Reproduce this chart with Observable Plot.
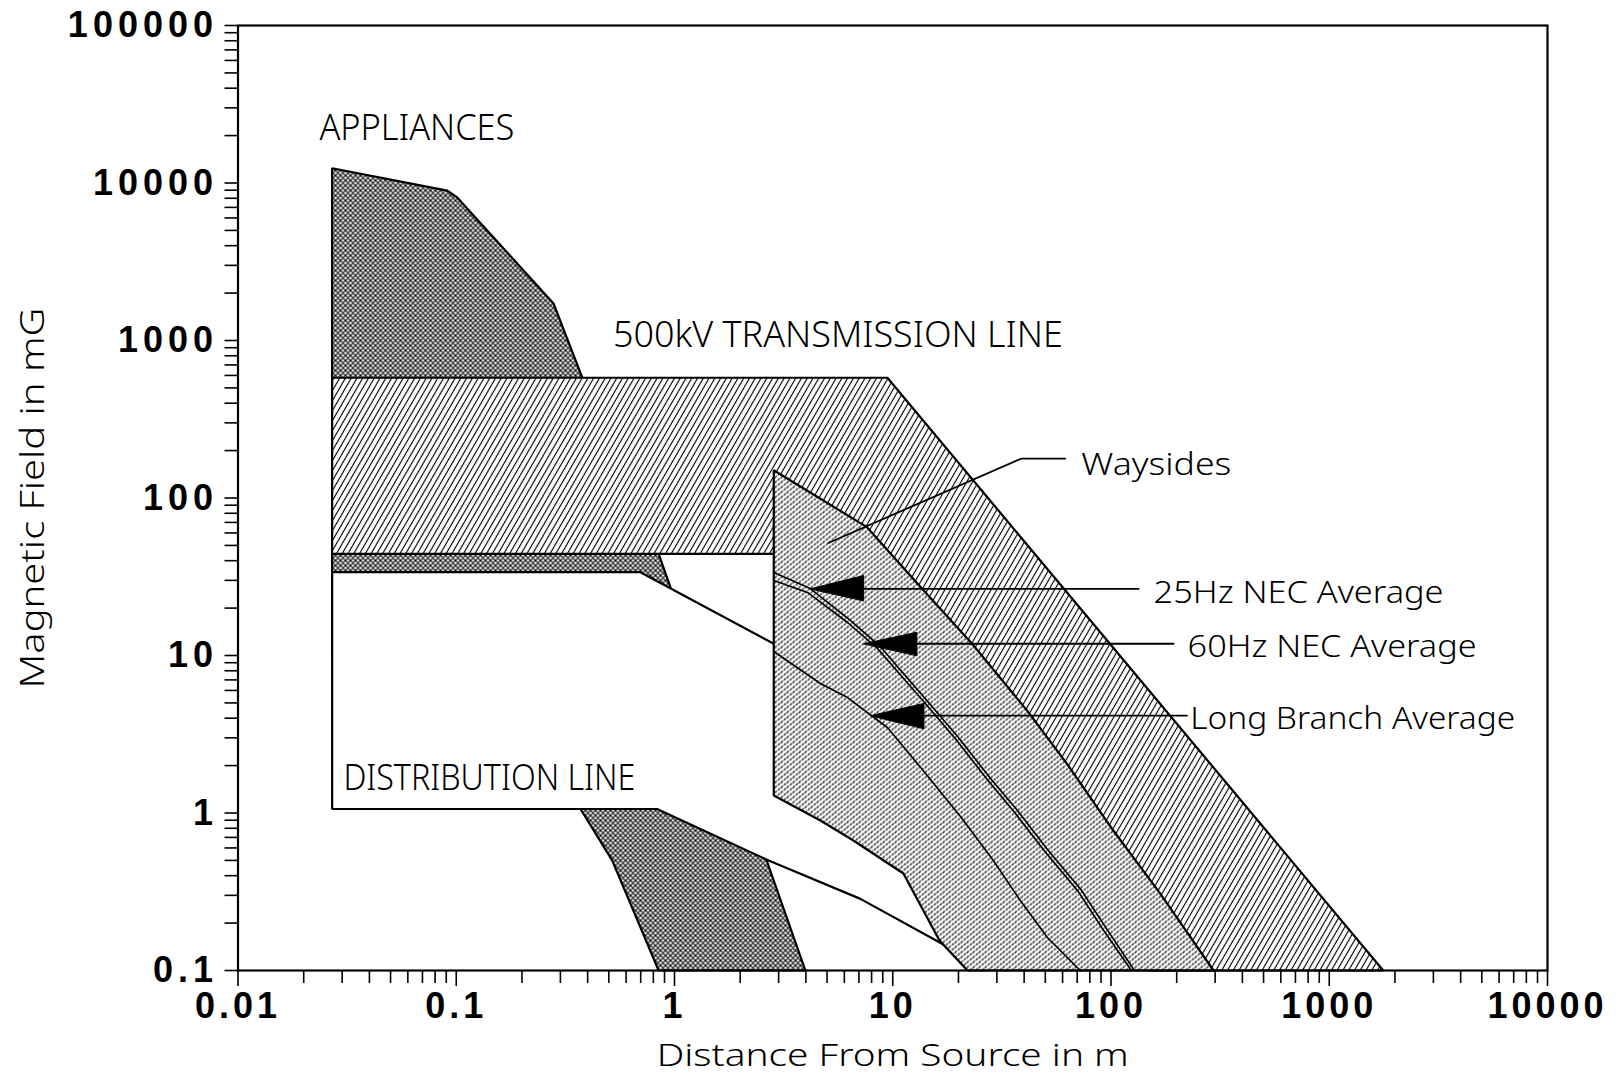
<!DOCTYPE html>
<html><head><meta charset="utf-8">
<script src="https://cdn.jsdelivr.net/npm/d3@7"></script>
<script src="https://cdn.jsdelivr.net/npm/@observablehq/plot@0.6"></script>
<style>
html,body{margin:0;padding:0;background:#fff;}
#chart svg{display:block;}
g[aria-label="y-axis tick label"] text{letter-spacing:5px;}
g[aria-label="x-axis tick label"] text{letter-spacing:4px;}
</style></head><body><div id="chart"></div>
<script>
// ---- axis ticks ----
const xTickValues = [0.01, 0.1, 1, 10, 100, 1000, 10000];
const xTickLabels = ["0.01", "0.1", "1", "10", "100", "1000", "10000"];
const yTickValues = [0.1, 1, 10, 100, 1000, 10000, 100000];
const yTickLabels = ["0.1", "1", "10", "100", "1000", "10000", "100000"];
const minorMultipliers = [2, 3, 4, 5, 6, 7, 8, 9];

// ---- regions (distance m, field mG) ----
const appliances = [[0.027,12400],[0.091,8950],[0.101,8090],[0.279,1720],[0.378,582],[0.846,44.2],[3.98,0.1],[0.846,0.1],[0.518,0.5],[0.371,1.06],[0.2,3],[0.027,10]];
const transmission = [[0.027,580],[9.45,580],[1768,0.1],[150,0.1],[3.6,44.2],[0.027,44.2]];
const distribution = [[0.027,33.8],[0.698,33.8],[2.85,11.86],[10.8,1.2],[17.4,0.144],[7.11,0.285],[2.70,0.499],[0.832,1.06],[0.027,1.06]];
const waysides = [[2.85,150],[7.62,65.3],[13.86,25.9],[23.1,11.87],[41.2,4.48],[62.9,2.05],[102.4,0.774],[168.2,0.308],[295,0.1],[22,0.1],[16.37,0.155],[11.19,0.413],[6.60,0.669],[4.66,0.896],[2.85,1.29]];

// ---- average curves ----
const nec25 = [[2.85,33.7],[4.19,26.6],[6.39,16.7],[8.77,11.4],[10.5,8.52],[14.6,5.03],[20.0,3.02],[28.0,1.66],[37.2,1.04],[51.6,0.578],[72.8,0.327],[95.2,0.185],[128,0.1]];
const nec60 = [[2.85,29.9],[4.1,25.0],[6.2,16.2],[8.5,11.1],[10.2,8.3],[14.2,4.9],[19.4,2.95],[27.2,1.62],[36.1,1.01],[50.1,0.563],[70.7,0.318],[92.4,0.18],[124,0.1]];
const longBranch = [[2.85,10.6],[4.66,6.64],[6.20,5.41],[9.45,3.49],[13.4,1.95],[20.6,0.936],[28.9,0.499],[38.4,0.278],[51.1,0.162],[72.3,0.1]];

// ---- annotation arrows / leaders ----
const arrowHeads = [
  {name:"25Hz", pts:[[4.19,26.5],[7.36,32.2],[7.36,22.3]]},
  {name:"60Hz", pts:[[7.36,11.87],[12.9,14.06],[12.9,10.0]]},
  {name:"LB",   pts:[[7.90,4.15],[13.9,4.96],[13.9,3.44]]}
];
const leaders = [
  {name:"25Hz", pts:[[7.36,26.5],[134,26.5]]},
  {name:"60Hz", pts:[[12.9,11.87],[193.6,11.87]]},
  {name:"LB",   pts:[[13.9,4.15],[222.8,4.15]]},
  {name:"Way",  pts:[[61.7,178],[38.8,178],[5.07,51.8]]}
];
const regionLabels = [
  {text:"APPLIANCES", x:0.0236, y:22180},
  {text:"500kV TRANSMISSION LINE", x:0.522, y:1076},
  {text:"DISTRIBUTION LINE", x:0.0304, y:1.667}
];
const noteLabels = [
  {text:"Waysides", x:73.1, y:162},
  {text:"25Hz NEC Average", x:156.7, y:25.2},
  {text:"60Hz NEC Average", x:224.4, y:11.3},
  {text:"Long Branch Average", x:230.8, y:3.98}
];
const xTitle = "Distance From Source in m";
const yTitle = "Magnetic Field in mG";

// ---- styling (kept separate) ----
const labelWidths = {"APPLIANCES":195,"500kV TRANSMISSION LINE":450,"DISTRIBUTION LINE":292,"Waysides":150,"25Hz NEC Average":290,"60Hz NEC Average":289,"Long Branch Average":325,"Distance From Source in m":472,"Magnetic Field in mG":381};
const labelFont = "'Noto Sans', 'DejaVu Sans', sans-serif";

const toPts = a => a.map(([x, y]) => ({x, y}));
const flat = arr => arr.flatMap(d => d.pts.map(([x, y]) => ({name: d.name, x, y})));
const xMinor = xTickValues.slice(0, -1).flatMap(v => minorMultipliers.map(m => v * m));
const yMinor = yTickValues.slice(0, -1).flatMap(v => minorMultipliers.map(m => v * m));
const xLab = new Map(xTickValues.map((v, i) => [v, xTickLabels[i]]));
const yLab = new Map(yTickValues.map((v, i) => [v, yTickLabels[i]]));

const poly = (data, fill, sw = 2.2) => Plot.line(toPts(data), {x:"x", y:"y", curve:"linear-closed", fill, stroke:"#000", strokeWidth:sw, strokeLinejoin:"miter"});
const curve = data => Plot.line(toPts(data), {x:"x", y:"y", stroke:"#000", strokeWidth:1.6});

const svg = Plot.plot({
  width: 1622, height: 1076,
  marginLeft: 237.5, marginRight: 75, marginTop: 25, marginBottom: 106,
  x: {type:"log", domain:[0.01, 10000]},
  y: {type:"log", domain:[0.1, 100000]},
  style: {fontFamily:"'Liberation Sans', Arial, sans-serif", background:"#fff", color:"#000"},
  marks: [
    poly(appliances, "url(#pat-cross)"),
    poly(transmission, "url(#pat-hatch)"),
    poly(distribution, "#fff"),
    poly(waysides, "url(#pat-dots)"),
    curve(nec25), curve(nec60), curve(longBranch),
    Plot.line(flat(leaders), {x:"x", y:"y", z:"name", stroke:"#000", strokeWidth:1.8}),
    Plot.line(flat(arrowHeads), {x:"x", y:"y", z:"name", curve:"linear-closed", fill:"#000", stroke:"#000", strokeWidth:1}),
    Plot.text(regionLabels, {x:"x", y:"y", text:"text", textAnchor:"start", fontSize:37, fontFamily:labelFont, fontWeight:300, className:"lbl"}),
    Plot.text(noteLabels, {x:"x", y:"y", text:"text", textAnchor:"start", fontSize:32, fontFamily:labelFont, fontWeight:300, className:"lbl"}),
    Plot.frame({stroke:"#000", strokeWidth:2.2}),
    Plot.axisY(yTickValues, {tickSize:13, tickPadding:7, tickFormat:d => yLab.get(d), fontSize:36, fontWeight:"bold", label:null, strokeWidth:1.6}),
    Plot.axisY(yMinor, {tickSize:13, tickFormat:() => "", label:null, strokeWidth:1.6}),
    Plot.axisX(xTickValues, {tickSize:16, tickPadding:6, tickFormat:d => xLab.get(d), fontSize:36, fontWeight:"bold", label:null, strokeWidth:1.6}),
    Plot.axisX(xMinor, {tickSize:13, tickFormat:() => "", label:null, strokeWidth:1.6}),
    Plot.text([xTitle], {frameAnchor:"bottom", dy:95, text:d => d, textAnchor:"middle", fontSize:31, fontFamily:labelFont, fontWeight:300, className:"lbl"}),
    Plot.text([yTitle], {frameAnchor:"left", dx:-204.5, rotate:-90, text:d => d, textAnchor:"middle", fontSize:33, fontFamily:labelFont, fontWeight:300, className:"lbl"})
  ]
});

const defs = `
<pattern id="pat-cross" patternUnits="userSpaceOnUse" width="5" height="5">
  <rect width="5" height="5" fill="#fff"/>
  <path d="M-1,-1L6,6M-1,4L1,6M4,-1L6,1M6,-1L-1,6M1,-1L-1,1M6,4L4,6" stroke="#000" stroke-width="1.1"/>
</pattern>
<pattern id="pat-hatch" patternUnits="userSpaceOnUse" width="5" height="5" patternTransform="rotate(30)">
  <rect width="5" height="5" fill="#fff"/>
  <line x1="2.5" y1="-1" x2="2.5" y2="6" stroke="#000" stroke-width="1.15"/>
</pattern>
<pattern id="pat-dots" patternUnits="userSpaceOnUse" width="6" height="5">
  <rect width="6" height="5" fill="#fff"/>
  <path d="M0.7,2.4L1.9,0.5M3.7,4.9L4.9,3.0" stroke="#000" stroke-width="1.2" stroke-linecap="round"/>
</pattern>`;
const d = d3.select(svg).insert("svg:defs", ":first-child");
d.html(defs);

d3.select(svg).selectAll("g.lbl text").each(function() {
  const w = labelWidths[this.textContent];
  if (w) { this.setAttribute("textLength", w); this.setAttribute("lengthAdjust", "spacingAndGlyphs"); }
});
document.getElementById("chart").appendChild(svg);
</script></body></html>
